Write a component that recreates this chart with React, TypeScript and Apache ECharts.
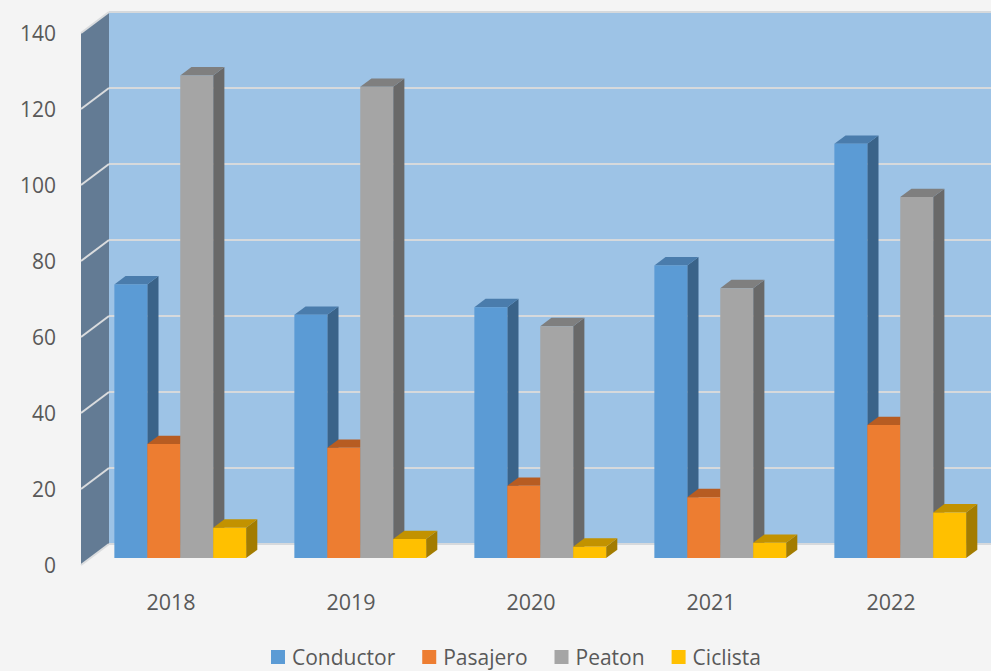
import React, { useEffect, useRef } from "react";
import * as echarts from "echarts";

const years = ["2018", "2019", "2020", "2021", "2022"];
const conductor = [72, 64, 66, 77, 109];
const pasajero = [30, 29, 19, 16, 35];
const peaton = [127, 124, 61, 71, 95];
const ciclista = [8, 5, 3, 4, 12];
const seriesNames = ["Conductor", "Pasajero", "Peaton", "Ciclista"];
const seriesValues = [conductor, pasajero, peaton, ciclista];
const yTicks = [0, 20, 40, 60, 80, 100, 120, 140];

const FONT = "'Open Sans', 'Noto Sans', sans-serif";
const TEXT_COLOR = "#595959";
const DEPTH_X = 28;
const DEPTH_Y = 21;
const BAR_FRONT = 0.33;
const BAR_DEPTH = 0.4;
const BAR_FRAC = 0.183;

const palette = [
  { front: "#5B9BD5", top: "#4A7CAC", side: "#3A6389" },
  { front: "#ED7D31", top: "#B75C22", side: "#A24F1B" },
  { front: "#A5A5A5", top: "#7F7F7F", side: "#696969" },
  { front: "#FFC000", top: "#C29200", side: "#A37C00" },
];

function makeBarRender(s: number) {
  return (_params: any, api: any) => {
    const i = api.value(0);
    const v = api.value(1);
    const base = api.coord([i, 0]);
    const topP = api.coord([i, v]);
    const band = api.size([1, 0])[0];
    const bw = band * BAR_FRAC;
    const groupW = bw * 4;
    const ox = DEPTH_X * BAR_FRONT;
    const oy = DEPTH_Y * BAR_FRONT;
    const dx = DEPTH_X * BAR_DEPTH;
    const dy = DEPTH_Y * BAR_DEPTH;
    const x0 = base[0] - groupW / 2 + s * bw + ox;
    const x1 = x0 + bw;
    const yb = base[1] - oy;
    const yt = topP[1] - oy;
    const c = palette[s];
    return {
      type: "group",
      children: [
        {
          type: "polygon",
          shape: { points: [[x1, yt], [x1 + dx, yt - dy], [x1 + dx, yb - dy], [x1, yb]] },
          style: { fill: c.side },
        },
        {
          type: "polygon",
          shape: { points: [[x0, yt], [x0 + dx, yt - dy], [x1 + dx, yt - dy], [x1, yt]] },
          style: { fill: c.top },
        },
        {
          type: "rect",
          shape: { x: x0, y: yt, width: bw, height: yb - yt },
          style: { fill: c.front },
        },
      ],
    };
  };
}

export default function App() {
  const ref = useRef<HTMLDivElement>(null);
  useEffect(() => {
    if (!ref.current) return;
    const chart = echarts.init(ref.current, null, { renderer: "svg" });
    const yMax = yTicks[yTicks.length - 1];
    const option: any = {
      animation: false,
      backgroundColor: "#F4F4F4",
      textStyle: { fontFamily: FONT },
      grid: [
        { left: 109, right: -18, top: 12, bottom: 127, show: true, backgroundColor: "#9DC3E6", borderWidth: 0 },
        { left: 81, right: 10, top: 33, bottom: 106 },
      ],
      xAxis: [
        { type: "category", gridIndex: 0, data: years, show: false },
        {
          type: "category",
          gridIndex: 1,
          data: years,
          axisLine: { show: false },
          axisTick: { show: false },
          axisLabel: { margin: 25, fontSize: 21.5, color: TEXT_COLOR, fontFamily: FONT },
        },
      ],
      yAxis: [
        {
          type: "value",
          gridIndex: 0,
          min: 0,
          max: yMax,
          interval: 20,
          axisLabel: { show: false },
          axisLine: { show: false },
          axisTick: { show: false },
          splitLine: { show: true, lineStyle: { color: "#D6D9DC", width: 2 } },
        },
        {
          type: "value",
          gridIndex: 1,
          min: 0,
          max: yMax,
          interval: 20,
          axisLine: { show: false },
          axisTick: { show: false },
          splitLine: { show: false },
          axisLabel: { margin: 25, fontSize: 21, color: TEXT_COLOR, fontFamily: FONT },
        },
      ],
      legend: {
        data: seriesNames,
        left: 271,
        top: 646,
        padding: 0,
        itemWidth: 14,
        itemHeight: 14,
        itemGap: 27,
        icon: "rect",
        textStyle: {
          fontSize: 21,
          lineHeight: 22,
          color: TEXT_COLOR,
          fontFamily: FONT,
          padding: [0, 0, 0, 2],
        },
      },
      series: [
        {
          type: "custom",
          name: "sideWall",
          xAxisIndex: 1,
          yAxisIndex: 1,
          silent: true,
          data: [[0, yMax]],
          renderItem: (_p: any, api: any) => {
            const band = api.size([1, 0])[0];
            const top = api.coord([0, api.value(1)]);
            const bot = api.coord([0, 0]);
            const x = top[0] - band / 2;
            return {
              type: "polygon",
              shape: {
                points: [
                  [x, top[1]],
                  [x + DEPTH_X, top[1] - DEPTH_Y],
                  [x + DEPTH_X, bot[1] - DEPTH_Y],
                  [x, bot[1]],
                ],
              },
              style: { fill: "#637B94" },
            };
          },
        },
        {
          type: "custom",
          name: "sideGrid",
          xAxisIndex: 1,
          yAxisIndex: 1,
          silent: true,
          data: yTicks.map((t) => [0, t]),
          renderItem: (_p: any, api: any) => {
            const band = api.size([1, 0])[0];
            const p = api.coord([0, api.value(1)]);
            const x = p[0] - band / 2;
            return {
              type: "line",
              shape: { x1: x, y1: p[1], x2: x + DEPTH_X, y2: p[1] - DEPTH_Y },
              style: { stroke: "#DADCDE", lineWidth: 2 },
            };
          },
        },
        ...seriesNames.map((name, s) => ({
          type: "custom",
          name,
          xAxisIndex: 1,
          yAxisIndex: 1,
          itemStyle: { color: palette[s].front },
          data: seriesValues[s].map((v, i) => [i, v]),
          renderItem: makeBarRender(s),
        })),
      ],
    };
    chart.setOption(option);
    return () => chart.dispose();
  }, []);
  return (
    <div
      ref={ref}
      style={{ position: "absolute", left: 0, top: 0, width: 991, height: 671 }}
    />
  );
}
